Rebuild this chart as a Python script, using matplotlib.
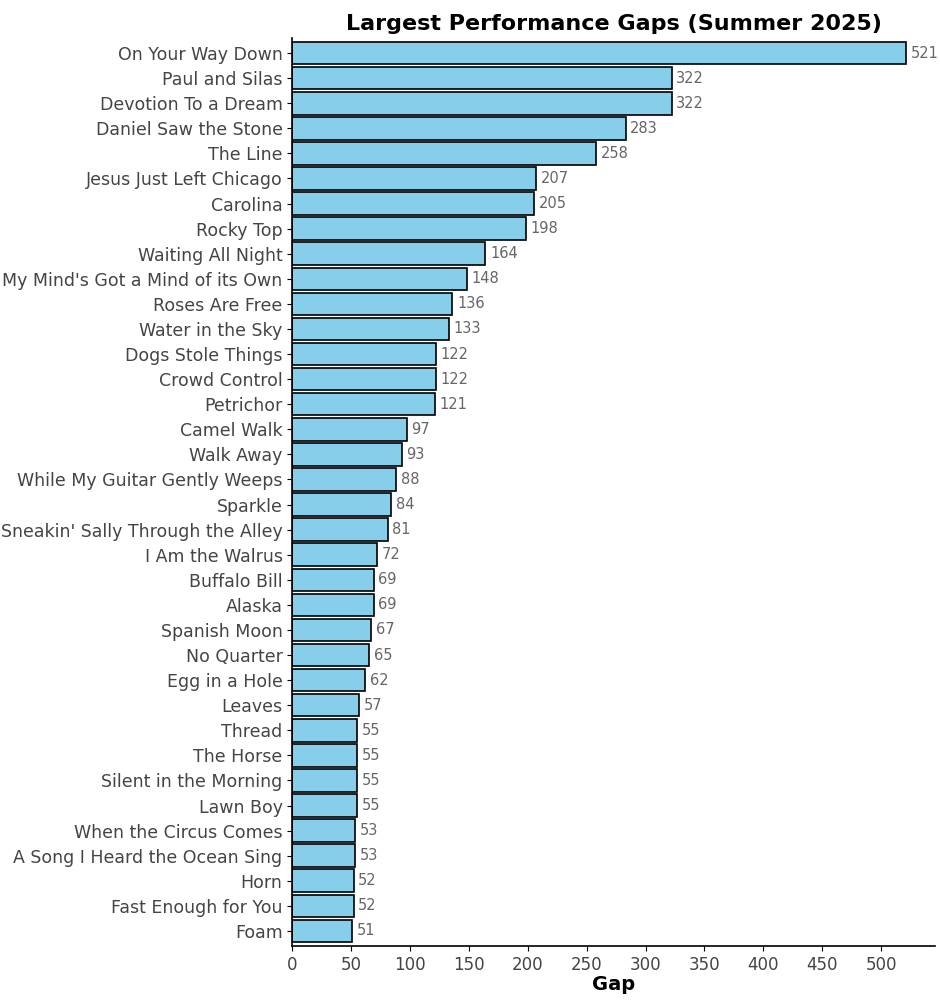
import matplotlib
matplotlib.use("Agg")
import matplotlib.pyplot as plt

songs = ["On Your Way Down","Paul and Silas","Devotion To a Dream","Daniel Saw the Stone","The Line",
"Jesus Just Left Chicago","Carolina","Rocky Top","Waiting All Night","My Mind's Got a Mind of its Own",
"Roses Are Free","Water in the Sky","Dogs Stole Things","Crowd Control","Petrichor","Camel Walk",
"Walk Away","While My Guitar Gently Weeps","Sparkle","Sneakin' Sally Through the Alley","I Am the Walrus",
"Buffalo Bill","Alaska","Spanish Moon","No Quarter","Egg in a Hole","Leaves","Thread","The Horse",
"Silent in the Morning","Lawn Boy","When the Circus Comes","A Song I Heard the Ocean Sing","Horn",
"Fast Enough for You","Foam"]
gaps = [521,322,322,283,258,207,205,198,164,148,136,133,122,122,121,97,93,88,84,81,72,69,69,67,65,62,57,55,55,55,55,53,53,52,52,51]
xticks = [0,50,100,150,200,250,300,350,400,450,500]

fig = plt.figure(figsize=(9.4,10), dpi=100)
ax = fig.add_axes([0.311,0.054,0.684,0.908])
y = list(range(len(songs)))[::-1]
ax.barh(y, gaps, height=0.9, color="#87CEEB", edgecolor="black", linewidth=1.2)
for yi, g in zip(y, gaps):
    ax.text(g+4, yi, str(g), va="center", ha="left", fontsize=10.5, color="#666666")
ax.set_yticks(y)
ax.set_yticklabels(songs, fontsize=12.5, color="#444444")
ax.set_xticks(xticks)
ax.set_xticklabels([str(t) for t in xticks], fontsize=12, color="#444444")
ax.set_xlim(0, 546)
ax.set_ylim(-0.6, len(songs)-0.4)
for s in ["top","right"]:
    ax.spines[s].set_visible(False)
ax.spines["left"].set_linewidth(1.2)
ax.spines["bottom"].set_linewidth(1.2)
ax.set_xlabel("Gap", fontsize=14, fontweight="bold", labelpad=1)
ax.set_title("Largest Performance Gaps (Summer 2025)", fontsize=16, fontweight="bold", pad=6)
fig.savefig("out.png", dpi=100)
